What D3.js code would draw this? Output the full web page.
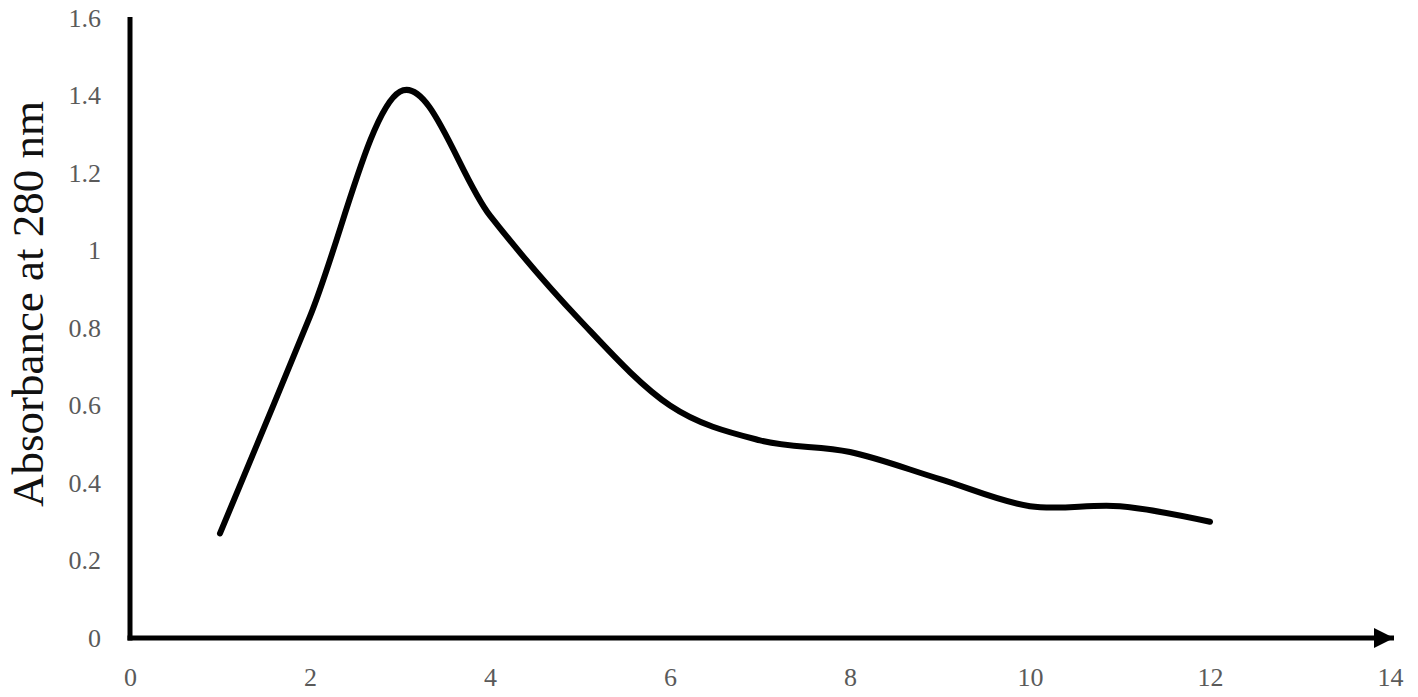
<!DOCTYPE html>
<html>
  <head>
    <meta charset="utf-8">
    <script src="https://cdn.jsdelivr.net/npm/d3@7"></script>
    <style>
      body { margin: 0; background: #fff; }
      .tick text { font-family: "Liberation Serif", "Times New Roman", serif; font-size: 26px; fill: #5a5a5a; }
    </style>
  </head>
  <body>
    <div id="chart"></div>
    <script type="text/javascript">
      var fractions = [1, 2, 3, 4, 5, 6, 7, 8, 9, 10, 11, 12],
          absorbance = [0.27, 0.83, 1.41, 1.09, 0.82, 0.60, 0.51, 0.48, 0.41, 0.34, 0.34, 0.30],
          xTicks = [0, 2, 4, 6, 8, 10, 12, 14],
          yTicks = [0, 0.2, 0.4, 0.6, 0.8, 1, 1.2, 1.4, 1.6],
          yTitle = "Absorbance at 280 nm";

      var width = 1418, height = 697;

      var svg = d3.select("#chart").append("svg")
          .attr("width", width)
          .attr("height", height);

      var x = d3.scaleLinear().domain([0, 14]).range([130, 1390]);
      var y = d3.scaleLinear().domain([0, 1.6]).range([638, 18]);

      // arrow head for the x axis
      svg.append("defs").append("marker")
          .attr("id", "arrow")
          .attr("viewBox", "0 0 10 10")
          .attr("refX", 10)
          .attr("refY", 5)
          .attr("markerUnits", "userSpaceOnUse")
          .attr("markerWidth", 22)
          .attr("markerHeight", 20)
          .attr("orient", "auto")
        .append("path")
          .attr("d", "M0,0 L10,5 L0,10 Z")
          .attr("fill", "#000");

      var xAxis = svg.append("g")
          .attr("transform", "translate(0," + y(0) + ")")
          .call(d3.axisBottom(x).tickValues(xTicks).tickSize(0).tickPadding(30).tickFormat(d3.format("d")));
      xAxis.select(".domain").remove();

      var yAxis = svg.append("g")
          .attr("transform", "translate(" + x(0) + ",0)")
          .call(d3.axisLeft(y).tickValues(yTicks).tickSize(0).tickPadding(29).tickFormat(function(d) { return d3.format("")(+d.toFixed(1)); }));
      yAxis.select(".domain").remove();

      // axis lines
      svg.append("line")
          .attr("x1", x(0)).attr("y1", y(0) + 2.5)
          .attr("x2", x(0)).attr("y2", y(1.6) - 1)
          .attr("stroke", "#000").attr("stroke-width", 5);

      svg.append("line")
          .attr("x1", x(0) - 2.5).attr("y1", y(0))
          .attr("x2", 1394).attr("y2", y(0))
          .attr("stroke", "#000").attr("stroke-width", 5)
          .attr("marker-end", "url(#arrow)");

      var line = d3.line()
          .x(function(d, i) { return x(fractions[i]); })
          .y(function(d) { return y(d); })
          .curve(d3.curveCardinal.tension(0));

      svg.append("path")
          .datum(absorbance)
          .attr("d", line)
          .attr("fill", "none")
          .attr("stroke", "#000")
          .attr("stroke-width", 6)
          .attr("stroke-linecap", "round")
          .attr("stroke-linejoin", "round");

      svg.append("text")
          .attr("transform", "translate(43,304) rotate(-90)")
          .attr("text-anchor", "middle")
          .style("font-family", "'Liberation Serif', 'Times New Roman', serif")
          .style("font-size", "45px")
          .style("fill", "#111")
          .text(yTitle);
    </script>
  </body>
</html>
